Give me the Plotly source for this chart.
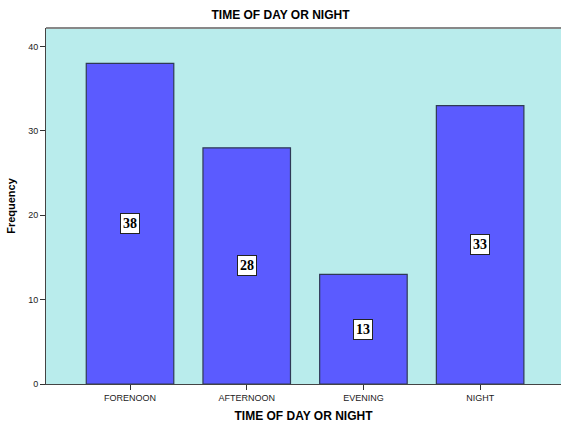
import plotly.graph_objects as go

categories = ["FORENOON", "AFTERNOON", "EVENING", "NIGHT"]
frequency = [38, 28, 13, 33]
y_ticks = [0, 10, 20, 30, 40]

fig = go.Figure()
fig.add_trace(go.Bar(
    x=list(range(len(categories))),
    y=frequency,
    width=0.75,
    marker=dict(color="#5b5bff", line=dict(color="#2f3a55", width=1.2)),
    hoverinfo="skip",
))

# value labels in white boxes at mid-height of each bar
for i, v in enumerate(frequency):
    fig.add_annotation(
        x=i, y=v / 2, text="<b>%d</b>" % v, showarrow=False,
        font=dict(family="Liberation Serif, DejaVu Serif, serif", size=14, color="black"),
        bgcolor="white", bordercolor="#222222", borderwidth=1, borderpad=2,
    )

fig.update_layout(
    width=561, height=423,
    margin=dict(l=46, r=0, t=28, b=39),
    paper_bgcolor="white",
    plot_bgcolor="#b9ecec",
    showlegend=False,
    title=dict(text="<b>TIME OF DAY OR NIGHT</b>", x=0.5, xanchor="center",
               y=0.965, yanchor="middle",
               font=dict(family="Arial, Liberation Sans, sans-serif", size=12, color="black")),
    bargap=0.25,
)
fig.update_xaxes(
    range=[-0.72, 3.693],
    tickmode="array", tickvals=list(range(len(categories))), ticktext=categories,
    ticks="outside", ticklen=5, tickcolor="#333333",
    tickfont=dict(family="Arial, Liberation Sans, sans-serif", size=9, color="#222222"),
    showline=True, linecolor="#444444", linewidth=1, mirror=False,
    showgrid=False, zeroline=False,
    title=dict(text="<b>TIME OF DAY OR NIGHT</b>", standoff=11,
               font=dict(family="Arial, Liberation Sans, sans-serif", size=12, color="black")),
)
fig.update_yaxes(
    range=[0, 42.2],
    tickmode="array", tickvals=y_ticks,
    ticks="outside", ticklen=5, tickcolor="#333333",
    tickfont=dict(family="Arial, Liberation Sans, sans-serif", size=9, color="#222222"),
    showline=True, linecolor="#444444", linewidth=1, mirror=False,
    showgrid=False, zeroline=False,
    title=dict(text="<b>Frequency</b>", standoff=10,
               font=dict(family="Arial, Liberation Sans, sans-serif", size=11, color="black")),
)
# gray top border of the plot area
fig.add_shape(type="line", xref="paper", yref="paper", x0=0, x1=1, y0=1, y1=1,
              line=dict(color="#888888", width=2))

fig.write_html("out.html")
